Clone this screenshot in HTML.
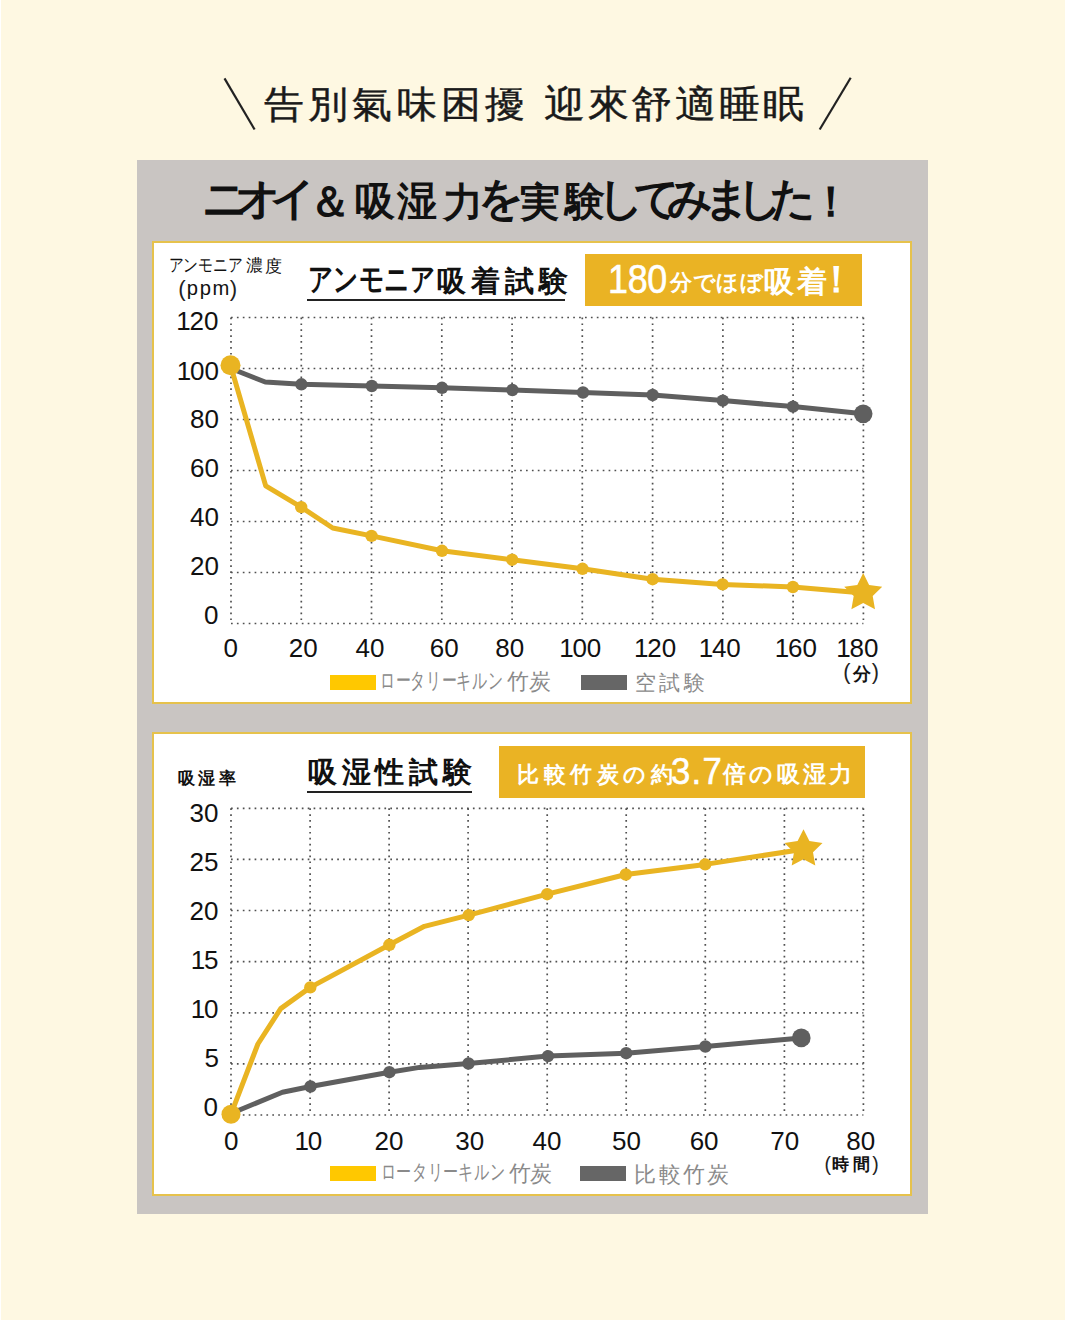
<!DOCTYPE html>
<html lang="ja"><head><meta charset="utf-8"><title>ニオイ＆吸湿力を実験してみました！</title>
<style>
html,body{margin:0;padding:0}
body{width:1065px;height:1339px;overflow:hidden;background:#fff;position:relative;font-family:"Liberation Sans",sans-serif;color:#111}
.ov{position:absolute;left:0;top:0}
.r{position:absolute}
.it{position:absolute;white-space:nowrap;line-height:1}
.ch{width:100px;text-align:center}
</style></head><body>
<div class="r" style="left:1px;top:0;width:1064px;height:1320px;background:#FEF8E2"></div>
<div class="r" style="left:137px;top:160px;width:791px;height:1054px;background:#C9C5C2"></div>
<div class="r" style="left:152px;top:241px;width:756px;height:459px;background:#fff;border:2px solid #E6C24C"></div>
<div class="r" style="left:152px;top:732px;width:756px;height:460px;background:#fff;border:2px solid #E6C24C"></div>
<div class="r" style="left:585px;top:254px;width:277px;height:52px;background:#EAB324"></div>
<div class="r" style="left:499px;top:746px;width:366px;height:52px;background:#EAB324"></div>
<div class="r" style="left:307px;top:299px;width:258px;height:2px;background:#222"></div>
<div class="r" style="left:307px;top:790.5px;width:165px;height:2px;background:#222"></div>
<div class="r" style="left:330px;top:675px;width:46px;height:15px;background:#FFC800"></div>
<div class="r" style="left:581px;top:675px;width:46px;height:15px;background:#666666"></div>
<div class="r" style="left:330px;top:1166px;width:46px;height:15px;background:#FFC800"></div>
<div class="r" style="left:580px;top:1166px;width:46px;height:15px;background:#666666"></div>
<svg class="ov" width="1065" height="1339" viewBox="0 0 1065 1339"><g stroke="#505050" stroke-width="1.7" stroke-dasharray="1.7 4.2" fill="none"><line x1="231.0" y1="317.5" x2="231.0" y2="623.5"/><line x1="301.3" y1="317.5" x2="301.3" y2="623.5"/><line x1="371.5" y1="317.5" x2="371.5" y2="623.5"/><line x1="441.8" y1="317.5" x2="441.8" y2="623.5"/><line x1="512.1" y1="317.5" x2="512.1" y2="623.5"/><line x1="582.3" y1="317.5" x2="582.3" y2="623.5"/><line x1="652.6" y1="317.5" x2="652.6" y2="623.5"/><line x1="722.9" y1="317.5" x2="722.9" y2="623.5"/><line x1="793.1" y1="317.5" x2="793.1" y2="623.5"/><line x1="863.4" y1="317.5" x2="863.4" y2="623.5"/><line x1="231" y1="317.5" x2="863.4" y2="317.5"/><line x1="231" y1="368.5" x2="863.4" y2="368.5"/><line x1="231" y1="419.5" x2="863.4" y2="419.5"/><line x1="231" y1="470.5" x2="863.4" y2="470.5"/><line x1="231" y1="521.5" x2="863.4" y2="521.5"/><line x1="231" y1="572.5" x2="863.4" y2="572.5"/><line x1="231" y1="623.5" x2="863.4" y2="623.5"/><line x1="231.0" y1="808.3" x2="231.0" y2="1115"/><line x1="310.1" y1="808.3" x2="310.1" y2="1115"/><line x1="389.1" y1="808.3" x2="389.1" y2="1115"/><line x1="468.1" y1="808.3" x2="468.1" y2="1115"/><line x1="547.2" y1="808.3" x2="547.2" y2="1115"/><line x1="626.2" y1="808.3" x2="626.2" y2="1115"/><line x1="705.3" y1="808.3" x2="705.3" y2="1115"/><line x1="784.4" y1="808.3" x2="784.4" y2="1115"/><line x1="863.4" y1="808.3" x2="863.4" y2="1115"/><line x1="231" y1="808.3" x2="863.4" y2="808.3"/><line x1="231" y1="859.4" x2="863.4" y2="859.4"/><line x1="231" y1="910.5" x2="863.4" y2="910.5"/><line x1="231" y1="961.6" x2="863.4" y2="961.6"/><line x1="231" y1="1012.8" x2="863.4" y2="1012.8"/><line x1="231" y1="1063.9" x2="863.4" y2="1063.9"/><line x1="231" y1="1115.0" x2="863.4" y2="1115.0"/></g><polyline points="231.0,368.5 265.2,382.0 301.4,384.3 371.8,386.0 442.0,387.8 512.4,390.0 583.0,392.5 652.6,395.0 722.8,400.6 793.0,406.6 863.2,413.8" fill="none" stroke="#5F5F5F" stroke-width="5.0" stroke-linejoin="round"/><circle cx="301.4" cy="384.3" r="6.2" fill="#5F5F5F"/><circle cx="371.8" cy="386" r="6.2" fill="#5F5F5F"/><circle cx="442" cy="387.8" r="6.2" fill="#5F5F5F"/><circle cx="512.4" cy="390" r="6.2" fill="#5F5F5F"/><circle cx="583" cy="392.5" r="6.2" fill="#5F5F5F"/><circle cx="652.6" cy="395" r="6.2" fill="#5F5F5F"/><circle cx="722.8" cy="400.6" r="6.2" fill="#5F5F5F"/><circle cx="793" cy="406.6" r="6.2" fill="#5F5F5F"/><circle cx="863.2" cy="413.8" r="9.3" fill="#5F5F5F"/><polyline points="230.5,365.3 265.7,485.9 301.2,507.1 332.7,528.0 371.5,535.9 442.0,550.8 512.2,559.7 582.5,568.8 652.6,579.2 722.6,584.4 792.9,587.0 863.2,593.0" fill="none" stroke="#E9B422" stroke-width="5.0" stroke-linejoin="round"/><circle cx="301.2" cy="507.1" r="6.2" fill="#E9B422"/><circle cx="371.5" cy="535.9" r="6.2" fill="#E9B422"/><circle cx="442" cy="550.8" r="6.2" fill="#E9B422"/><circle cx="512.2" cy="559.7" r="6.2" fill="#E9B422"/><circle cx="582.5" cy="568.8" r="6.2" fill="#E9B422"/><circle cx="652.6" cy="579.2" r="6.2" fill="#E9B422"/><circle cx="722.6" cy="584.4" r="6.2" fill="#E9B422"/><circle cx="792.9" cy="587" r="6.2" fill="#E9B422"/><circle cx="230.5" cy="365.3" r="10" fill="#E9B422"/><polygon points="863.2,573.0 869.1,584.9 882.2,586.8 872.7,596.1 875.0,609.2 863.2,603.0 851.4,609.2 853.7,596.1 844.2,586.8 857.3,584.9" fill="#E9B422"/><polyline points="231.0,1113.5 282.4,1092.2 310.5,1086.5 389.4,1072.2 419.6,1067.4 468.5,1063.5 548.0,1056.1 626.2,1053.2 705.4,1046.5 801.3,1037.9" fill="none" stroke="#5F5F5F" stroke-width="5.0" stroke-linejoin="round"/><circle cx="310.5" cy="1086.5" r="6.2" fill="#5F5F5F"/><circle cx="389.4" cy="1072.2" r="6.2" fill="#5F5F5F"/><circle cx="468.5" cy="1063.5" r="6.2" fill="#5F5F5F"/><circle cx="548" cy="1056.1" r="6.2" fill="#5F5F5F"/><circle cx="626.2" cy="1053.2" r="6.2" fill="#5F5F5F"/><circle cx="705.4" cy="1046.5" r="6.2" fill="#5F5F5F"/><circle cx="801.3" cy="1037.9" r="9.3" fill="#5F5F5F"/><polyline points="231.0,1114.2 257.9,1044.0 280.7,1008.6 310.3,987.4 389.4,944.8 424.4,926.3 468.8,915.1 547.2,894.2 625.8,874.5 705.2,864.4 803.5,849.2" fill="none" stroke="#E9B422" stroke-width="5.0" stroke-linejoin="round"/><circle cx="310.3" cy="987.4" r="6.2" fill="#E9B422"/><circle cx="389.4" cy="944.8" r="6.2" fill="#E9B422"/><circle cx="468.8" cy="915.1" r="6.2" fill="#E9B422"/><circle cx="547.2" cy="894.2" r="6.2" fill="#E9B422"/><circle cx="625.8" cy="874.5" r="6.2" fill="#E9B422"/><circle cx="705.2" cy="864.4" r="6.2" fill="#E9B422"/><circle cx="231" cy="1114.2" r="9.5" fill="#E9B422"/><polygon points="803.5,829.2 809.4,841.1 822.5,843.0 813.0,852.3 815.3,865.4 803.5,859.2 791.7,865.4 794.0,852.3 784.5,843.0 797.6,841.1" fill="#E9B422"/><line x1="224.5" y1="78.4" x2="254.6" y2="129.5" stroke="#222" stroke-width="2.2"/><line x1="850.7" y1="77.7" x2="819.7" y2="129.5" stroke="#222" stroke-width="2.2"/></svg>
<span class="it ch" style="left:233.99px;top:86.20px;font-size:37.00px;font-family:'Liberation Sans',sans-serif;color:#1a1a1a;-webkit-text-stroke:0.4px #1a1a1a;transform:scaleX(1.0800);">告</span><span class="it ch" style="left:278.19px;top:86.20px;font-size:37.00px;font-family:'Liberation Sans',sans-serif;color:#1a1a1a;-webkit-text-stroke:0.4px #1a1a1a;transform:scaleX(1.0800);">別</span><span class="it ch" style="left:322.39px;top:86.20px;font-size:37.00px;font-family:'Liberation Sans',sans-serif;color:#1a1a1a;-webkit-text-stroke:0.4px #1a1a1a;transform:scaleX(1.0800);">氣</span><span class="it ch" style="left:366.60px;top:86.20px;font-size:37.00px;font-family:'Liberation Sans',sans-serif;color:#1a1a1a;-webkit-text-stroke:0.4px #1a1a1a;transform:scaleX(1.0800);">味</span><span class="it ch" style="left:410.80px;top:86.20px;font-size:37.00px;font-family:'Liberation Sans',sans-serif;color:#1a1a1a;-webkit-text-stroke:0.4px #1a1a1a;transform:scaleX(1.0800);">困</span><span class="it ch" style="left:455.01px;top:86.20px;font-size:37.00px;font-family:'Liberation Sans',sans-serif;color:#1a1a1a;-webkit-text-stroke:0.4px #1a1a1a;transform:scaleX(1.0800);">擾</span>
<span class="it ch" style="left:514.53px;top:86.20px;font-size:37.96px;font-family:'Liberation Sans',sans-serif;color:#1a1a1a;-webkit-text-stroke:0.4px #1a1a1a;transform:scaleX(1.0800);">迎</span><span class="it ch" style="left:558.50px;top:86.20px;font-size:37.96px;font-family:'Liberation Sans',sans-serif;color:#1a1a1a;-webkit-text-stroke:0.4px #1a1a1a;transform:scaleX(1.0800);">來</span><span class="it ch" style="left:602.48px;top:86.20px;font-size:37.96px;font-family:'Liberation Sans',sans-serif;color:#1a1a1a;-webkit-text-stroke:0.4px #1a1a1a;transform:scaleX(1.0800);">舒</span><span class="it ch" style="left:646.46px;top:86.20px;font-size:37.96px;font-family:'Liberation Sans',sans-serif;color:#1a1a1a;-webkit-text-stroke:0.4px #1a1a1a;transform:scaleX(1.0800);">適</span><span class="it ch" style="left:690.43px;top:86.20px;font-size:37.96px;font-family:'Liberation Sans',sans-serif;color:#1a1a1a;-webkit-text-stroke:0.4px #1a1a1a;transform:scaleX(1.0800);">睡</span><span class="it ch" style="left:734.41px;top:86.20px;font-size:37.96px;font-family:'Liberation Sans',sans-serif;color:#1a1a1a;-webkit-text-stroke:0.4px #1a1a1a;transform:scaleX(1.0800);">眠</span>
<span class="it ch" style="left:174.55px;top:176.35px;font-size:45.00px;font-family:'Liberation Sans',sans-serif;color:#111;font-weight:bold;">ニ</span>
<span class="it ch" style="left:208.05px;top:176.35px;font-size:45.00px;font-family:'Liberation Sans',sans-serif;color:#111;font-weight:bold;">オ</span>
<span class="it ch" style="left:242.94px;top:176.35px;font-size:45.00px;font-family:'Liberation Sans',sans-serif;color:#111;font-weight:bold;">イ</span>
<span class="it ch" style="left:279.84px;top:180.71px;font-size:42.00px;font-family:'Liberation Sans',sans-serif;color:#111;font-weight:bold;">＆</span>
<span class="it ch" style="left:325.00px;top:180.95px;font-size:40.00px;font-family:'Liberation Sans',sans-serif;color:#111;font-weight:bold;">吸</span>
<span class="it ch" style="left:367.30px;top:181.45px;font-size:40.00px;font-family:'Liberation Sans',sans-serif;color:#111;font-weight:bold;">湿</span>
<span class="it ch" style="left:412.69px;top:181.95px;font-size:40.00px;font-family:'Liberation Sans',sans-serif;color:#111;font-weight:bold;">力</span>
<span class="it ch" style="left:450.59px;top:175.85px;font-size:45.00px;font-family:'Liberation Sans',sans-serif;color:#111;font-weight:bold;">を</span>
<span class="it ch" style="left:489.94px;top:181.95px;font-size:40.00px;font-family:'Liberation Sans',sans-serif;color:#111;font-weight:bold;">実</span>
<span class="it ch" style="left:534.64px;top:180.95px;font-size:40.00px;font-family:'Liberation Sans',sans-serif;color:#111;font-weight:bold;">験</span>
<span class="it ch" style="left:570.84px;top:175.85px;font-size:45.00px;font-family:'Liberation Sans',sans-serif;color:#111;font-weight:bold;">し</span>
<span class="it ch" style="left:606.59px;top:175.85px;font-size:45.00px;font-family:'Liberation Sans',sans-serif;color:#111;font-weight:bold;">て</span>
<span class="it ch" style="left:640.25px;top:175.85px;font-size:45.00px;font-family:'Liberation Sans',sans-serif;color:#111;font-weight:bold;">み</span>
<span class="it ch" style="left:677.05px;top:176.35px;font-size:45.00px;font-family:'Liberation Sans',sans-serif;color:#111;font-weight:bold;">ま</span>
<span class="it ch" style="left:710.39px;top:175.85px;font-size:45.00px;font-family:'Liberation Sans',sans-serif;color:#111;font-weight:bold;">し</span>
<span class="it ch" style="left:743.30px;top:176.35px;font-size:45.00px;font-family:'Liberation Sans',sans-serif;color:#111;font-weight:bold;">た</span>
<span class="it ch" style="left:781.00px;top:180.71px;font-size:42.00px;font-family:'Liberation Sans',sans-serif;color:#111;font-weight:bold;">！</span>
<span class="it ch" style="left:125.58px;top:256.16px;font-size:18.35px;font-family:'Liberation Sans',sans-serif;color:#111;transform:scaleX(0.8217);">ア</span><span class="it ch" style="left:140.37px;top:256.16px;font-size:18.35px;font-family:'Liberation Sans',sans-serif;color:#111;transform:scaleX(0.8217);">ン</span><span class="it ch" style="left:155.16px;top:256.16px;font-size:18.35px;font-family:'Liberation Sans',sans-serif;color:#111;transform:scaleX(0.8217);">モ</span><span class="it ch" style="left:169.95px;top:256.16px;font-size:18.35px;font-family:'Liberation Sans',sans-serif;color:#111;transform:scaleX(0.8217);">ニ</span><span class="it ch" style="left:184.75px;top:256.16px;font-size:18.35px;font-family:'Liberation Sans',sans-serif;color:#111;transform:scaleX(0.8217);">ア</span>
<span class="it ch" style="left:204.64px;top:257.36px;font-size:17.03px;font-family:'Liberation Sans',sans-serif;color:#111;">濃</span>
<span class="it ch" style="left:223.94px;top:257.71px;font-size:16.50px;font-family:'Liberation Sans',sans-serif;color:#111;">度</span>
<span class="it" id="u1cl" style="left:178.20px;top:277.58px;font-size:22.19px;letter-spacing:0.00px;font-family:'Liberation Sans',sans-serif;color:#222;">(</span>
<span class="it" id="u1c" style="left:186.80px;top:278.40px;font-size:20.19px;letter-spacing:1.61px;font-family:'Liberation Sans',sans-serif;color:#111;">ppm</span>
<span class="it" id="u1cr" style="left:229.75px;top:277.58px;font-size:22.19px;letter-spacing:0.00px;font-family:'Liberation Sans',sans-serif;color:#222;">)</span>
<span class="it ch" style="left:270.74px;top:263.28px;font-size:32.27px;font-family:'Liberation Sans',sans-serif;color:#111;font-weight:bold;transform:scaleX(0.7720);">ア</span><span class="it ch" style="left:296.21px;top:263.28px;font-size:32.27px;font-family:'Liberation Sans',sans-serif;color:#111;font-weight:bold;transform:scaleX(0.7720);">ン</span><span class="it ch" style="left:321.69px;top:263.28px;font-size:32.27px;font-family:'Liberation Sans',sans-serif;color:#111;font-weight:bold;transform:scaleX(0.7720);">モ</span><span class="it ch" style="left:347.17px;top:263.28px;font-size:32.27px;font-family:'Liberation Sans',sans-serif;color:#111;font-weight:bold;transform:scaleX(0.7720);">ニ</span><span class="it ch" style="left:372.64px;top:263.28px;font-size:32.27px;font-family:'Liberation Sans',sans-serif;color:#111;font-weight:bold;transform:scaleX(0.7720);">ア</span>
<span class="it ch" style="left:401.50px;top:266.96px;font-size:28.72px;font-family:'Liberation Sans',sans-serif;color:#111;font-weight:bold;">吸</span><span class="it ch" style="left:435.34px;top:266.96px;font-size:28.72px;font-family:'Liberation Sans',sans-serif;color:#111;font-weight:bold;">着</span><span class="it ch" style="left:469.18px;top:266.96px;font-size:28.72px;font-family:'Liberation Sans',sans-serif;color:#111;font-weight:bold;">試</span><span class="it ch" style="left:503.03px;top:266.96px;font-size:28.72px;font-family:'Liberation Sans',sans-serif;color:#111;font-weight:bold;">験</span>
<span class="it" id="b1a" style="left:608.00px;top:259.20px;font-size:40.73px;letter-spacing:-0.29px;font-family:'Liberation Sans',sans-serif;color:#fff;transform:scaleX(0.8800);transform-origin:0 0;-webkit-text-stroke:0.6px #fff;">180</span>
<span class="it ch" style="left:631.01px;top:272.32px;font-size:21.61px;font-family:'Liberation Sans',sans-serif;color:#fff;font-weight:bold;">分</span><span class="it ch" style="left:654.21px;top:272.32px;font-size:21.61px;font-family:'Liberation Sans',sans-serif;color:#fff;font-weight:bold;">で</span><span class="it ch" style="left:677.92px;top:272.32px;font-size:21.61px;font-family:'Liberation Sans',sans-serif;color:#fff;font-weight:bold;">ほ</span><span class="it ch" style="left:701.63px;top:272.32px;font-size:21.61px;font-family:'Liberation Sans',sans-serif;color:#fff;font-weight:bold;">ぼ</span>
<span class="it ch" style="left:728.80px;top:266.96px;font-size:30.02px;font-family:'Liberation Sans',sans-serif;color:#fff;font-weight:bold;">吸</span><span class="it ch" style="left:761.66px;top:266.96px;font-size:30.02px;font-family:'Liberation Sans',sans-serif;color:#fff;font-weight:bold;">着</span>
<span class="it ch" style="left:786.50px;top:262.41px;font-size:36.72px;font-family:'Liberation Sans',sans-serif;color:#fff;font-weight:bold;">！</span>
<span class="it" id="y1_120" style="left:176.20px;top:307.93px;font-size:26.00px;letter-spacing:0.00px;font-family:'Liberation Sans',sans-serif;color:#111;"><span style="letter-spacing:-1.20px">1</span>20</span>
<span class="it" id="y1_100" style="left:176.80px;top:358.18px;font-size:26.00px;letter-spacing:0.00px;font-family:'Liberation Sans',sans-serif;color:#111;"><span style="letter-spacing:-1.20px">1</span>00</span>
<span class="it" id="y1_80" style="left:190.00px;top:406.03px;font-size:26.00px;letter-spacing:0.00px;font-family:'Liberation Sans',sans-serif;color:#111;">80</span>
<span class="it" id="y1_60" style="left:190.00px;top:455.13px;font-size:26.00px;letter-spacing:0.00px;font-family:'Liberation Sans',sans-serif;color:#111;">60</span>
<span class="it" id="y1_40" style="left:190.00px;top:503.98px;font-size:26.00px;letter-spacing:0.00px;font-family:'Liberation Sans',sans-serif;color:#111;">40</span>
<span class="it" id="y1_20" style="left:190.00px;top:553.33px;font-size:26.00px;letter-spacing:0.00px;font-family:'Liberation Sans',sans-serif;color:#111;">20</span>
<span class="it" id="y1_0" style="left:204.00px;top:602.13px;font-size:26.00px;letter-spacing:0.00px;font-family:'Liberation Sans',sans-serif;color:#111;">0</span>
<span class="it" id="x1_0" style="left:223.50px;top:635.38px;font-size:26.00px;letter-spacing:0.00px;font-family:'Liberation Sans',sans-serif;color:#111;">0</span>
<span class="it" id="x1_20" style="left:288.75px;top:635.38px;font-size:26.00px;letter-spacing:0.00px;font-family:'Liberation Sans',sans-serif;color:#111;">20</span>
<span class="it" id="x1_40" style="left:355.60px;top:635.38px;font-size:26.00px;letter-spacing:0.00px;font-family:'Liberation Sans',sans-serif;color:#111;">40</span>
<span class="it" id="x1_60" style="left:429.80px;top:635.38px;font-size:26.00px;letter-spacing:0.00px;font-family:'Liberation Sans',sans-serif;color:#111;">60</span>
<span class="it" id="x1_80" style="left:495.25px;top:635.38px;font-size:26.00px;letter-spacing:0.00px;font-family:'Liberation Sans',sans-serif;color:#111;">80</span>
<span class="it" id="x1_100" style="left:559.15px;top:635.38px;font-size:26.00px;letter-spacing:0.00px;font-family:'Liberation Sans',sans-serif;color:#111;"><span style="letter-spacing:-1.20px">1</span>00</span>
<span class="it" id="x1_120" style="left:634.05px;top:635.38px;font-size:26.00px;letter-spacing:0.00px;font-family:'Liberation Sans',sans-serif;color:#111;"><span style="letter-spacing:-1.20px">1</span>20</span>
<span class="it" id="x1_140" style="left:698.65px;top:635.38px;font-size:26.00px;letter-spacing:0.00px;font-family:'Liberation Sans',sans-serif;color:#111;"><span style="letter-spacing:-1.20px">1</span>40</span>
<span class="it" id="x1_160" style="left:774.70px;top:635.38px;font-size:26.00px;letter-spacing:0.00px;font-family:'Liberation Sans',sans-serif;color:#111;"><span style="letter-spacing:-1.20px">1</span>60</span>
<span class="it" id="x1_180" style="left:836.25px;top:635.38px;font-size:26.00px;letter-spacing:0.00px;font-family:'Liberation Sans',sans-serif;color:#111;"><span style="letter-spacing:-1.20px">1</span>80</span>
<span class="it" id="u1dl" style="left:843.15px;top:660.73px;font-size:21.64px;letter-spacing:0.00px;font-family:'Liberation Sans',sans-serif;color:#222;">(</span>
<span class="it ch" style="left:811.89px;top:665.59px;font-size:17.52px;font-family:'Liberation Sans',sans-serif;color:#111;font-weight:bold;">分</span>
<span class="it" id="u1dr" style="left:871.85px;top:660.73px;font-size:21.64px;letter-spacing:0.00px;font-family:'Liberation Sans',sans-serif;color:#222;">)</span>
<span class="it ch" style="left:337.80px;top:670.00px;font-size:22.26px;font-family:'Liberation Sans',sans-serif;color:#8a8a8a;transform:scaleX(0.6784);">ロ</span><span class="it ch" style="left:353.07px;top:670.00px;font-size:22.26px;font-family:'Liberation Sans',sans-serif;color:#8a8a8a;transform:scaleX(0.6784);">ー</span><span class="it ch" style="left:368.33px;top:670.00px;font-size:22.26px;font-family:'Liberation Sans',sans-serif;color:#8a8a8a;transform:scaleX(0.6784);">タ</span><span class="it ch" style="left:383.93px;top:670.00px;font-size:22.26px;font-family:'Liberation Sans',sans-serif;color:#8a8a8a;transform:scaleX(0.6784);">リ</span><span class="it ch" style="left:399.20px;top:670.00px;font-size:22.26px;font-family:'Liberation Sans',sans-serif;color:#8a8a8a;transform:scaleX(0.6784);">ー</span><span class="it ch" style="left:414.46px;top:670.00px;font-size:22.26px;font-family:'Liberation Sans',sans-serif;color:#8a8a8a;transform:scaleX(0.6784);">キ</span><span class="it ch" style="left:430.06px;top:670.00px;font-size:22.26px;font-family:'Liberation Sans',sans-serif;color:#8a8a8a;transform:scaleX(0.6784);">ル</span><span class="it ch" style="left:445.67px;top:670.00px;font-size:22.26px;font-family:'Liberation Sans',sans-serif;color:#8a8a8a;transform:scaleX(0.6784);">ン</span>
<span class="it ch" style="left:467.84px;top:671.43px;font-size:21.55px;font-family:'Liberation Sans',sans-serif;color:#8a8a8a;">竹</span>
<span class="it ch" style="left:489.89px;top:671.43px;font-size:21.55px;font-family:'Liberation Sans',sans-serif;color:#8a8a8a;">炭</span>
<span class="it ch" style="left:595.50px;top:672.88px;font-size:20.50px;font-family:'Liberation Sans',sans-serif;color:#8a8a8a;">空</span><span class="it ch" style="left:619.76px;top:672.88px;font-size:20.50px;font-family:'Liberation Sans',sans-serif;color:#8a8a8a;">試</span><span class="it ch" style="left:644.02px;top:672.88px;font-size:20.50px;font-family:'Liberation Sans',sans-serif;color:#8a8a8a;">験</span>
<span class="it ch" style="left:136.30px;top:771.04px;font-size:16.58px;font-family:'Liberation Sans',sans-serif;color:#111;font-weight:bold;">吸</span><span class="it ch" style="left:156.68px;top:771.04px;font-size:16.58px;font-family:'Liberation Sans',sans-serif;color:#111;font-weight:bold;">湿</span><span class="it ch" style="left:177.07px;top:771.04px;font-size:16.58px;font-family:'Liberation Sans',sans-serif;color:#111;font-weight:bold;">率</span>
<span class="it ch" style="left:272.30px;top:757.76px;font-size:28.51px;font-family:'Liberation Sans',sans-serif;color:#111;font-weight:bold;">吸</span><span class="it ch" style="left:306.11px;top:757.76px;font-size:28.51px;font-family:'Liberation Sans',sans-serif;color:#111;font-weight:bold;">湿</span><span class="it ch" style="left:339.94px;top:757.76px;font-size:28.51px;font-family:'Liberation Sans',sans-serif;color:#111;font-weight:bold;">性</span><span class="it ch" style="left:373.76px;top:757.76px;font-size:28.51px;font-family:'Liberation Sans',sans-serif;color:#111;font-weight:bold;">試</span><span class="it ch" style="left:407.58px;top:757.76px;font-size:28.51px;font-family:'Liberation Sans',sans-serif;color:#111;font-weight:bold;">験</span>
<span class="it ch" style="left:478.00px;top:765.00px;font-size:21.54px;font-family:'Liberation Sans',sans-serif;color:#fff;font-weight:bold;">比</span><span class="it ch" style="left:504.53px;top:765.00px;font-size:21.54px;font-family:'Liberation Sans',sans-serif;color:#fff;font-weight:bold;">較</span><span class="it ch" style="left:531.06px;top:765.00px;font-size:21.54px;font-family:'Liberation Sans',sans-serif;color:#fff;font-weight:bold;">竹</span><span class="it ch" style="left:557.59px;top:765.00px;font-size:21.54px;font-family:'Liberation Sans',sans-serif;color:#fff;font-weight:bold;">炭</span><span class="it ch" style="left:584.62px;top:765.00px;font-size:21.54px;font-family:'Liberation Sans',sans-serif;color:#fff;font-weight:bold;">の</span><span class="it ch" style="left:611.65px;top:765.00px;font-size:21.54px;font-family:'Liberation Sans',sans-serif;color:#fff;font-weight:bold;">約</span>
<span class="it" id="b2b" style="left:670.80px;top:752.76px;font-size:37.73px;letter-spacing:1.41px;font-family:'Liberation Sans',sans-serif;color:#fff;transform:scaleX(0.9200);transform-origin:0 0;-webkit-text-stroke:0.6px #fff;">3.7</span>
<span class="it ch" style="left:684.50px;top:764.00px;font-size:22.52px;font-family:'Liberation Sans',sans-serif;color:#fff;font-weight:bold;">倍</span><span class="it ch" style="left:711.31px;top:764.00px;font-size:22.52px;font-family:'Liberation Sans',sans-serif;color:#fff;font-weight:bold;">の</span><span class="it ch" style="left:738.13px;top:764.00px;font-size:22.52px;font-family:'Liberation Sans',sans-serif;color:#fff;font-weight:bold;">吸</span><span class="it ch" style="left:764.45px;top:764.00px;font-size:22.52px;font-family:'Liberation Sans',sans-serif;color:#fff;font-weight:bold;">湿</span><span class="it ch" style="left:790.78px;top:764.00px;font-size:22.52px;font-family:'Liberation Sans',sans-serif;color:#fff;font-weight:bold;">力</span>
<span class="it" id="y2_30" style="left:189.50px;top:799.93px;font-size:26.00px;letter-spacing:0.00px;font-family:'Liberation Sans',sans-serif;color:#111;">30</span>
<span class="it" id="y2_25" style="left:189.50px;top:848.93px;font-size:26.00px;letter-spacing:0.00px;font-family:'Liberation Sans',sans-serif;color:#111;">25</span>
<span class="it" id="y2_20" style="left:189.50px;top:897.98px;font-size:26.00px;letter-spacing:0.00px;font-family:'Liberation Sans',sans-serif;color:#111;">20</span>
<span class="it" id="y2_15" style="left:190.70px;top:946.78px;font-size:26.00px;letter-spacing:0.00px;font-family:'Liberation Sans',sans-serif;color:#111;"><span style="letter-spacing:-1.20px">1</span>5</span>
<span class="it" id="y2_10" style="left:190.70px;top:996.13px;font-size:26.00px;letter-spacing:0.00px;font-family:'Liberation Sans',sans-serif;color:#111;"><span style="letter-spacing:-1.20px">1</span>0</span>
<span class="it" id="y2_5" style="left:204.50px;top:1045.13px;font-size:26.00px;letter-spacing:0.00px;font-family:'Liberation Sans',sans-serif;color:#111;">5</span>
<span class="it" id="y2_0" style="left:203.50px;top:1094.33px;font-size:26.00px;letter-spacing:0.00px;font-family:'Liberation Sans',sans-serif;color:#111;">0</span>
<span class="it" id="x2_0" style="left:224.05px;top:1127.88px;font-size:26.00px;letter-spacing:0.00px;font-family:'Liberation Sans',sans-serif;color:#111;">0</span>
<span class="it" id="x2_10" style="left:294.50px;top:1127.88px;font-size:26.00px;letter-spacing:0.00px;font-family:'Liberation Sans',sans-serif;color:#111;"><span style="letter-spacing:-1.20px">1</span>0</span>
<span class="it" id="x2_20" style="left:374.50px;top:1127.88px;font-size:26.00px;letter-spacing:0.00px;font-family:'Liberation Sans',sans-serif;color:#111;">20</span>
<span class="it" id="x2_30" style="left:455.25px;top:1127.88px;font-size:26.00px;letter-spacing:0.00px;font-family:'Liberation Sans',sans-serif;color:#111;">30</span>
<span class="it" id="x2_40" style="left:532.45px;top:1127.88px;font-size:26.00px;letter-spacing:0.00px;font-family:'Liberation Sans',sans-serif;color:#111;">40</span>
<span class="it" id="x2_50" style="left:611.95px;top:1127.88px;font-size:26.00px;letter-spacing:0.00px;font-family:'Liberation Sans',sans-serif;color:#111;">50</span>
<span class="it" id="x2_60" style="left:689.65px;top:1127.88px;font-size:26.00px;letter-spacing:0.00px;font-family:'Liberation Sans',sans-serif;color:#111;">60</span>
<span class="it" id="x2_70" style="left:770.25px;top:1127.88px;font-size:26.00px;letter-spacing:0.00px;font-family:'Liberation Sans',sans-serif;color:#111;">70</span>
<span class="it" id="x2_80" style="left:846.25px;top:1127.88px;font-size:26.00px;letter-spacing:0.00px;font-family:'Liberation Sans',sans-serif;color:#111;">80</span>
<span class="it" id="u2bl" style="left:824.40px;top:1154.53px;font-size:19.39px;letter-spacing:0.00px;font-family:'Liberation Sans',sans-serif;color:#222;">(</span>
<span class="it ch" style="left:790.50px;top:1155.84px;font-size:17.02px;font-family:'Liberation Sans',sans-serif;color:#111;font-weight:bold;">時</span><span class="it ch" style="left:811.41px;top:1155.84px;font-size:17.02px;font-family:'Liberation Sans',sans-serif;color:#111;font-weight:bold;">間</span>
<span class="it" id="u2br" style="left:872.25px;top:1154.53px;font-size:19.39px;letter-spacing:0.00px;font-family:'Liberation Sans',sans-serif;color:#222;">)</span>
<span class="it ch" style="left:338.89px;top:1161.00px;font-size:21.15px;font-family:'Liberation Sans',sans-serif;color:#8a8a8a;transform:scaleX(0.7174);">ロ</span><span class="it ch" style="left:354.32px;top:1161.00px;font-size:21.15px;font-family:'Liberation Sans',sans-serif;color:#8a8a8a;transform:scaleX(0.7174);">ー</span><span class="it ch" style="left:369.74px;top:1161.00px;font-size:21.15px;font-family:'Liberation Sans',sans-serif;color:#8a8a8a;transform:scaleX(0.7174);">タ</span><span class="it ch" style="left:385.52px;top:1161.00px;font-size:21.15px;font-family:'Liberation Sans',sans-serif;color:#8a8a8a;transform:scaleX(0.7174);">リ</span><span class="it ch" style="left:400.95px;top:1161.00px;font-size:21.15px;font-family:'Liberation Sans',sans-serif;color:#8a8a8a;transform:scaleX(0.7174);">ー</span><span class="it ch" style="left:416.37px;top:1161.00px;font-size:21.15px;font-family:'Liberation Sans',sans-serif;color:#8a8a8a;transform:scaleX(0.7174);">キ</span><span class="it ch" style="left:432.15px;top:1161.00px;font-size:21.15px;font-family:'Liberation Sans',sans-serif;color:#8a8a8a;transform:scaleX(0.7174);">ル</span><span class="it ch" style="left:447.94px;top:1161.00px;font-size:21.15px;font-family:'Liberation Sans',sans-serif;color:#8a8a8a;transform:scaleX(0.7174);">ン</span>
<span class="it ch" style="left:469.50px;top:1163.43px;font-size:21.55px;font-family:'Liberation Sans',sans-serif;color:#8a8a8a;">竹</span>
<span class="it ch" style="left:491.30px;top:1163.43px;font-size:21.55px;font-family:'Liberation Sans',sans-serif;color:#8a8a8a;">炭</span>
<span class="it ch" style="left:595.19px;top:1163.68px;font-size:21.55px;font-family:'Liberation Sans',sans-serif;color:#8a8a8a;">比</span><span class="it ch" style="left:619.50px;top:1163.68px;font-size:21.55px;font-family:'Liberation Sans',sans-serif;color:#8a8a8a;">較</span><span class="it ch" style="left:643.82px;top:1163.68px;font-size:21.55px;font-family:'Liberation Sans',sans-serif;color:#8a8a8a;">竹</span><span class="it ch" style="left:668.14px;top:1163.68px;font-size:21.55px;font-family:'Liberation Sans',sans-serif;color:#8a8a8a;">炭</span>
</body></html>
